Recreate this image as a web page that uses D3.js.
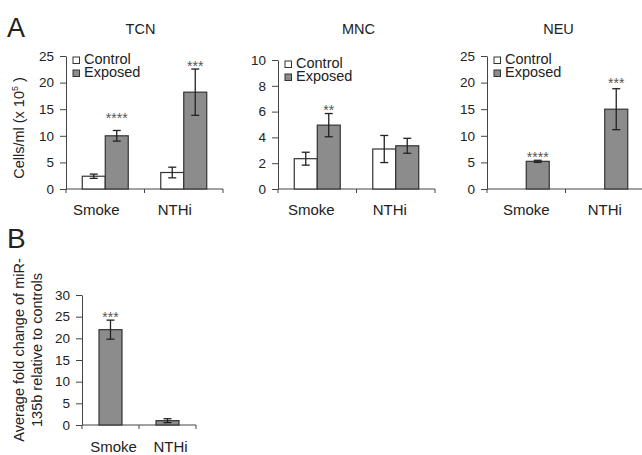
<!DOCTYPE html>
<html>
<head>
<meta charset="utf-8">
<script src="https://cdn.jsdelivr.net/npm/d3@7"></script>
<style>
	body { margin: 0; background: #fff; }
	text { font-family: 'Liberation Sans', Arial, sans-serif; fill: #222; }
</style>
</head>
<body>
<script>
var width = 642,
	height = 455;

var categories = ['Smoke', 'NTHi'],
	series = ['Control', 'Exposed'];

// panel A values (mean, +/- error); stars sit at the given level
var tcnControl = [2.4, 3.1],
	tcnControlErr = [0.4, 1.0],
	tcnExposed = [10.0, 18.2],
	tcnExposedErr = [1.0, 4.35],
	tcnStars = ['****', '***'],
	tcnStarAt = [13.5, 23.3];

var mncControl = [2.35, 3.1],
	mncControlErr = [0.5, 1.05],
	mncExposed = [4.95, 3.35],
	mncExposedErr = [0.9, 0.58],
	mncStars = ['**', ''],
	mncStarAt = [6.2, 0];

var neuControl = [null, null],
	neuControlErr = [0, 0],
	neuExposed = [5.2, 15.0],
	neuExposedErr = [0.2, 3.85],
	neuStars = ['****', '***'],
	neuStarAt = [6.1, 20.1];

// panel B
var mirExposed = [22.0, 1.0],
	mirExposedErr = [2.2, 0.45],
	mirStars = ['***', ''],
	mirStarAt = [25.2, 0];

var tcnTicks = [0, 5, 10, 15, 20, 25],
	mncTicks = [0, 2, 4, 6, 8, 10],
	neuTicks = [0, 5, 10, 15, 20, 25],
	mirTicks = [0, 5, 10, 15, 20, 25, 30];

var svg = d3.select('body')
	.append('svg')
	.attr('width', width)
	.attr('height', height);

function rows(control, controlErr, exposed, exposedErr) {
	var out = [];
	categories.forEach(function(c, i) {
		if (control && control[i] != null) out.push({cat: c, s: 'Control', v: control[i], e: controlErr[i]});
		if (exposed[i] != null) out.push({cat: c, s: 'Exposed', v: exposed[i], e: exposedErr[i]});
	});
	return out;
}

function drawPanel(p) {
	var g = svg.append('g');

	var x = d3.scaleBand().domain(categories).range([p.x0, p.x1]);
	var xs = d3.scaleBand().domain(p.series).range([0, x.bandwidth()])
		.paddingInner(0).paddingOuter(p.outer);
	var y = d3.scaleLinear().domain([0, p.ticks[p.ticks.length - 1]]).range([p.y0, p.y1]);

	// y axis
	var ya = g.append('g')
		.attr('transform', 'translate(' + p.x0 + ',0)')
		.call(d3.axisLeft(y).tickValues(p.ticks).tickSize(6).tickSizeOuter(0).tickPadding(6));
	ya.selectAll('path, line').attr('stroke', '#444');
	ya.selectAll('text').attr('font-size', '13.5px').attr('fill', '#222')
		.style('font-family', "'Liberation Sans', Arial, sans-serif");

	// x axis line with ticks at band edges
	g.append('line')
		.attr('x1', p.x0).attr('x2', p.x1)
		.attr('y1', p.y0).attr('y2', p.y0)
		.attr('stroke', '#444');
	var edges = categories.map(function(c) { return x(c); }).concat([p.x1]);
	g.selectAll('.xtick').data(edges).enter().append('line')
		.attr('x1', function(d) { return d; }).attr('x2', function(d) { return d; })
		.attr('y1', p.y0).attr('y2', p.y0 + 4)
		.attr('stroke', '#444');

	g.selectAll('.xlab').data(categories).enter().append('text')
		.attr('x', function(d) { return x(d) + x.bandwidth() / 2 + p.labDx; })
		.attr('y', p.labY)
		.attr('text-anchor', 'middle')
		.attr('font-size', '15px')
		.text(function(d) { return d; });

	var data = p.data;

	g.selectAll('.bar').data(data).enter().append('rect')
		.attr('x', function(d) { return x(d.cat) + xs(d.s); })
		.attr('y', function(d) { return y(d.v); })
		.attr('width', xs.bandwidth())
		.attr('height', function(d) { return p.y0 - y(d.v); })
		.attr('fill', function(d) { return d.s == 'Control' ? '#fff' : '#8c8c8c'; })
		.attr('stroke', '#333')
		.attr('stroke-width', 1.2);

	var cx = function(d) { return x(d.cat) + xs(d.s) + xs.bandwidth() / 2; };

	var err = g.selectAll('.err').data(data).enter().append('g')
		.attr('stroke', '#222').attr('stroke-width', 1.3);
	err.append('line')
		.attr('x1', cx).attr('x2', cx)
		.attr('y1', function(d) { return y(d.v - d.e); })
		.attr('y2', function(d) { return y(d.v + d.e); });
	[-1, 1].forEach(function(sg) {
		err.append('line')
			.attr('x1', function(d) { return cx(d) - 4; })
			.attr('x2', function(d) { return cx(d) + 4; })
			.attr('y1', function(d) { return y(d.v + sg * d.e); })
			.attr('y2', function(d) { return y(d.v + sg * d.e); });
	});

	// significance
	var exp = data.filter(function(d) { return d.s == 'Exposed'; });
	g.selectAll('.star').data(exp).enter().append('text')
		.attr('x', cx)
		.attr('y', function(d) { return y(p.starAt[categories.indexOf(d.cat)]) + 5.8; })
		.attr('text-anchor', 'middle')
		.attr('font-size', '14px')
		.style('fill', '#555')
		.text(function(d) { return p.stars[categories.indexOf(d.cat)]; });

	if (p.title) {
		g.append('text')
			.attr('x', (p.x0 + p.x1) / 2 + p.titleDx)
			.attr('y', 34)
			.attr('text-anchor', 'middle')
			.attr('font-size', '14.5px')
			.text(p.title);
	}

	if (p.legend) {
		var leg = g.selectAll('.leg').data(series).enter().append('g')
			.attr('transform', function(d, i) { return 'translate(' + (p.x0 + 7) + ',' + (p.y1 + 7.5 + i * 13) + ')'; });
		leg.append('rect')
			.attr('x', 0).attr('y', -6.5)
			.attr('width', 6.5).attr('height', 6.5)
			.attr('fill', function(d) { return d == 'Control' ? '#fff' : '#8c8c8c'; })
			.attr('stroke', '#333');
		leg.append('text')
			.attr('x', 11).attr('y', 0)
			.attr('font-size', '14.5px')
			.text(function(d) { return d; });
	}
}

drawPanel({
	title: 'TCN', titleDx: -4, x0: 66, x1: 223, y0: 189, y1: 56, outer: 0.707,
	ticks: tcnTicks, series: series, legend: true, labY: 215, labDx: -9,
	stars: tcnStars, starAt: tcnStarAt,
	data: rows(tcnControl, tcnControlErr, tcnExposed, tcnExposedErr)
});
drawPanel({
	title: 'MNC', titleDx: 2, x0: 278, x1: 435, y0: 189, y1: 60, outer: 0.707,
	ticks: mncTicks, series: series, legend: true, labY: 215, labDx: -6,
	stars: mncStars, starAt: mncStarAt,
	data: rows(mncControl, mncControlErr, mncExposed, mncExposedErr)
});
drawPanel({
	title: 'NEU', titleDx: -7, x0: 487, x1: 644, y0: 189, y1: 56, outer: 0.707,
	ticks: neuTicks, series: series, legend: true, labY: 215, labDx: 0,
	stars: neuStars, starAt: neuStarAt,
	data: rows(neuControl, neuControlErr, neuExposed, neuExposedErr)
});
drawPanel({
	title: null, x0: 82, x1: 196, y0: 425, y1: 295, outer: 0.74,
	ticks: mirTicks, series: ['Exposed'], legend: false, labY: 452, labDx: 3,
	stars: mirStars, starAt: mirStarAt,
	data: rows(null, null, mirExposed, mirExposedErr)
});

// panel letters and y titles
svg.append('text').attr('x', 7).attr('y', 37).attr('font-size', '27px').text('A');
svg.append('text').attr('x', 7).attr('y', 248).attr('font-size', '28px').text('B');

var yl = svg.append('text')
	.attr('transform', 'translate(23.5,128) rotate(-90)')
	.attr('text-anchor', 'middle')
	.attr('font-size', '14.5px');
yl.append('tspan').text('Cells/ml (x 10');
yl.append('tspan').attr('font-size', '9px').attr('dy', -6).text('5');
yl.append('tspan').attr('dy', 6).text(' )');

var yl2 = svg.append('text')
	.attr('transform', 'translate(23.5,350) rotate(-90)')
	.attr('text-anchor', 'middle')
	.attr('font-size', '14.5px');
yl2.append('tspan').attr('x', 0).attr('y', 0).text('Average fold change of miR-');
yl2.append('tspan').attr('x', 0).attr('y', 18.5).text('135b relative to controls');
</script>
</body>
</html>
